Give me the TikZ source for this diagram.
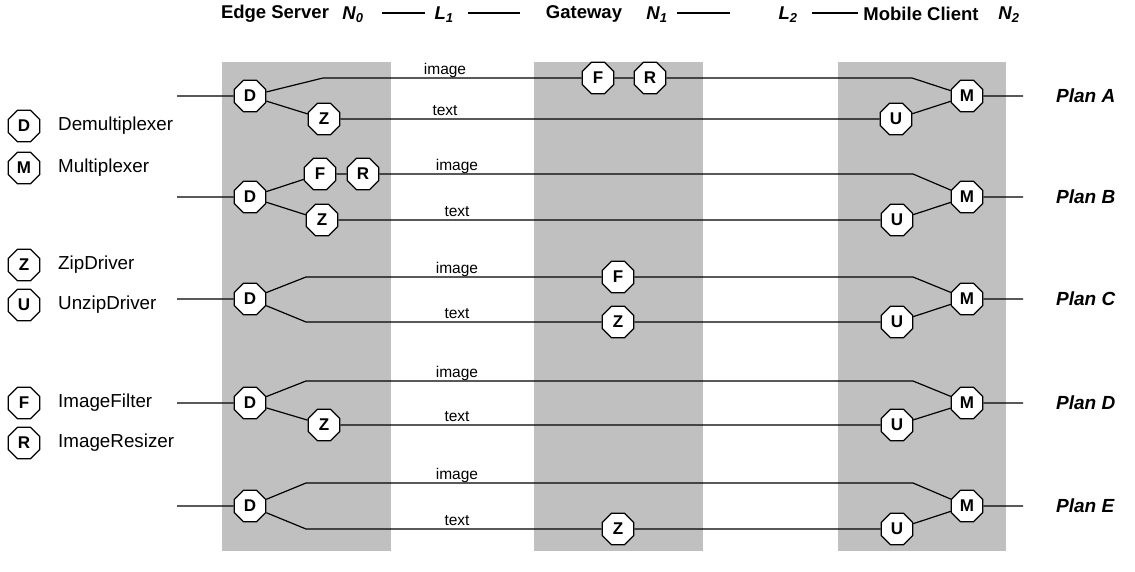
\documentclass[tikz,border=0pt]{standalone}
\usepackage{fontspec}
\setmainfont{Liberation Sans}
\usetikzlibrary{shapes.geometric}
\definecolor{colgray}{RGB}{192,192,192}
\tikzset{
  op/.style={draw, line width=1.2pt, fill=white, regular polygon, regular polygon sides=8,
    minimum size=34pt, inner sep=0pt, font=\bfseries\fontsize{17}{17}\selectfont},
  wire/.style={line width=1.2pt},
  hdr/.style={font=\bfseries\fontsize{18.5}{18.5}\selectfont, inner sep=0pt},
  hdri/.style={font=\bfseries\itshape\fontsize{18.5}{18.5}\selectfont, inner sep=0pt},
  leg/.style={font=\fontsize{18.8}{18.8}\selectfont, anchor=west, inner sep=0pt},
  lab/.style={font=\fontsize{15.5}{15.5}\selectfont, inner sep=0pt, anchor=base},
  plan/.style={font=\bfseries\itshape\fontsize{19}{19}\selectfont, anchor=west, inner sep=0pt},
}
\begin{document}
\begin{tikzpicture}[x=1pt,y=-1pt]
\useasboundingbox (0,0) rectangle (1135,571);
% shaded node columns
\fill[colgray] (222,62) rectangle (391,551);
\fill[colgray] (534,62) rectangle (703,551);
\fill[colgray] (838,62) rectangle (1006,551);
% header
\node[hdr] (es) at (275,14) {Edge Server};
\node[hdri] (n0) at (353,15) {N\textsubscript{0}};
\node[hdri] (l1) at (444,15) {L\textsubscript{1}};
\node[hdr] (gw) at (584,14) {Gateway};
\node[hdri] (n1) at (657,15) {N\textsubscript{1}};
\node[hdri] (l2) at (788,15) {L\textsubscript{2}};
\node[hdr] (mc) at (921,14) {Mobile Client};
\node[hdri] (n2) at (1009,15) {N\textsubscript{2}};
\coordinate (h1a) at (382,13); \coordinate (h1b) at (425,13);
\coordinate (h2a) at (468,13); \coordinate (h2b) at (520,13);
\coordinate (h3a) at (677,13); \coordinate (h3b) at (730,13);
\coordinate (h4a) at (812,13); \coordinate (h4b) at (858,13);
\draw[wire] (h1a) -- (h1b);
\draw[wire] (h2a) -- (h2b);
\draw[wire] (h3a) -- (h3b);
\draw[wire] (h4a) -- (h4b);
% legend
\node[op] (lgD) at (24,126) {D}; \node[leg] (ltD) at (58,126) {Demultiplexer};
\node[op] (lgM) at (24,168) {M}; \node[leg] (ltM) at (58,168) {Multiplexer};
\node[op] (lgZ) at (24,265) {Z}; \node[leg] (ltZ) at (58,265) {ZipDriver};
\node[op] (lgU) at (24,305) {U}; \node[leg] (ltU) at (58,305) {UnzipDriver};
\node[op] (lgF) at (24,403) {F}; \node[leg] (ltF) at (58,403) {ImageFilter};
\node[op] (lgR) at (24,443) {R}; \node[leg] (ltR) at (58,443) {ImageResizer};

% ---------- Plan A ----------
\coordinate (aIn) at (177,96);
\node[op] (aD) at (250,96) {D};
\node[op] (aZ) at (324,119) {Z};
\coordinate (aK1) at (323,78);
\node[op] (aF) at (598,78) {F};
\node[op] (aR) at (650,78) {R};
\coordinate (aK2) at (912,78);
\node[op] (aU) at (896,119) {U};
\node[op] (aM) at (967,96) {M};
\coordinate (aOut) at (1023,96);
\draw[wire] (aIn) -- (aD);
\draw[wire] (aD) -- (aK1) -- (aF);
\draw[wire] (aF) -- (aR);
\draw[wire] (aR) -- (aK2) -- (aM);
\draw[wire] (aD) -- (aZ);
\draw[wire] (aZ) -- (aU);
\draw[wire] (aU) -- (aM);
\draw[wire] (aM) -- (aOut);
\node[lab] (aLi) at (445,74) {image};
\node[lab] (aLt) at (445,115) {text};
\node[plan] (aP) at (1056,96) {Plan A};

% ---------- Plan B ----------
\coordinate (bIn) at (177,197);
\node[op] (bD) at (250,197) {D};
\node[op] (bF) at (320,174) {F};
\node[op] (bR) at (363,174) {R};
\node[op] (bZ) at (322,220) {Z};
\coordinate (bK2) at (913,174);
\node[op] (bU) at (897,220) {U};
\node[op] (bM) at (967,197) {M};
\coordinate (bOut) at (1023,197);
\draw[wire] (bIn) -- (bD);
\draw[wire] (bD) -- (bF);
\draw[wire] (bF) -- (bR);
\draw[wire] (bR) -- (bK2) -- (bM);
\draw[wire] (bD) -- (bZ);
\draw[wire] (bZ) -- (bU);
\draw[wire] (bU) -- (bM);
\draw[wire] (bM) -- (bOut);
\node[lab] (bLi) at (457,170) {image};
\node[lab] (bLt) at (457,216) {text};
\node[plan] (bP) at (1056,197) {Plan B};

% ---------- Plan C ----------
\coordinate (cIn) at (177,299);
\node[op] (cD) at (250,299) {D};
\coordinate (cK1) at (306,277);
\coordinate (cK3) at (306,322);
\node[op] (cF) at (618,277) {F};
\node[op] (cZ) at (618,322) {Z};
\coordinate (cK2) at (913,277);
\node[op] (cU) at (897,322) {U};
\node[op] (cM) at (967,299) {M};
\coordinate (cOut) at (1023,299);
\draw[wire] (cIn) -- (cD);
\draw[wire] (cD) -- (cK1) -- (cF);
\draw[wire] (cF) -- (cK2) -- (cM);
\draw[wire] (cD) -- (cK3) -- (cZ);
\draw[wire] (cZ) -- (cU);
\draw[wire] (cU) -- (cM);
\draw[wire] (cM) -- (cOut);
\node[lab] (cLi) at (457,273) {image};
\node[lab] (cLt) at (457,318) {text};
\node[plan] (cP) at (1056,299) {Plan C};

% ---------- Plan D ----------
\coordinate (dIn) at (177,403);
\node[op] (dD) at (250,403) {D};
\coordinate (dK1) at (306,381);
\node[op] (dZ) at (324,425) {Z};
\coordinate (dK2) at (913,381);
\node[op] (dU) at (897,425) {U};
\node[op] (dM) at (967,403) {M};
\coordinate (dOut) at (1023,403);
\draw[wire] (dIn) -- (dD);
\draw[wire] (dD) -- (dK1) -- (dK2) -- (dM);
\draw[wire] (dD) -- (dZ);
\draw[wire] (dZ) -- (dU);
\draw[wire] (dU) -- (dM);
\draw[wire] (dM) -- (dOut);
\node[lab] (dLi) at (457,377) {image};
\node[lab] (dLt) at (457,421) {text};
\node[plan] (dP) at (1056,403) {Plan D};

% ---------- Plan E ----------
\coordinate (eIn) at (177,506);
\node[op] (eD) at (250,506) {D};
\coordinate (eK1) at (306,483);
\coordinate (eK3) at (306,529);
\node[op] (eZ) at (618,529) {Z};
\coordinate (eK2) at (913,483);
\node[op] (eU) at (897,529) {U};
\node[op] (eM) at (967,506) {M};
\coordinate (eOut) at (1023,506);
\draw[wire] (eIn) -- (eD);
\draw[wire] (eD) -- (eK1) -- (eK2) -- (eM);
\draw[wire] (eD) -- (eK3) -- (eZ);
\draw[wire] (eZ) -- (eU);
\draw[wire] (eU) -- (eM);
\draw[wire] (eM) -- (eOut);
\node[lab] (eLi) at (457,479) {image};
\node[lab] (eLt) at (457,525) {text};
\node[plan] (eP) at (1056,506) {Plan E};
\end{tikzpicture}
\end{document}
